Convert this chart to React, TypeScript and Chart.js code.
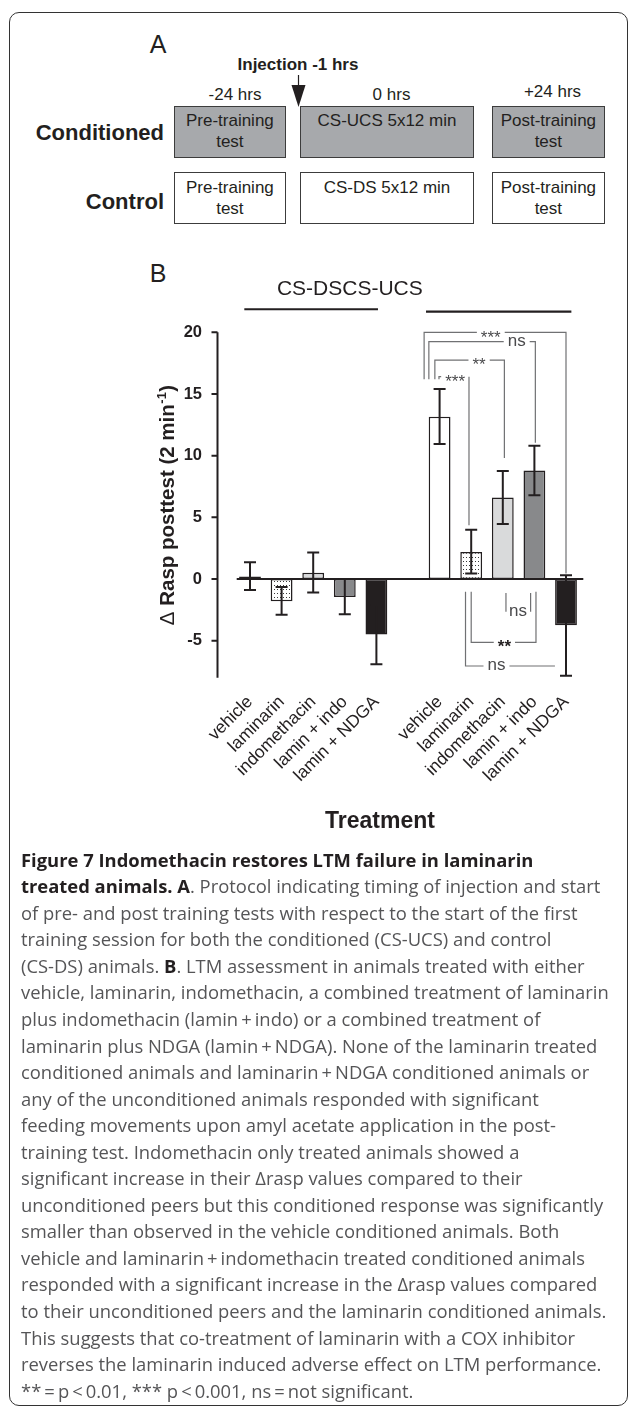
import React, { useEffect, useRef } from "react";
import { Chart, registerables } from "chart.js";

Chart.register(...registerables);

// ---------------- data ----------------
const categories = [
  "vehicle", "laminarin", "indomethacin", "lamin + indo", "lamin + NDGA",
  "",
  "vehicle", "laminarin", "indomethacin", "lamin + indo", "lamin + NDGA",
];
const means = [0.2, -1.8, 0.5, -1.45, -4.5, null, 13.15, 2.2, 6.6, 8.8, -3.75];
const errHigh = [1.35, -0.65, 2.15, 0.0, -2.1, null, 15.4, 4.0, 8.75, 10.8, 0.3];
const errLow = [-0.9, -2.9, -1.1, -2.85, -6.9, null, 10.95, 0.45, 4.45, 6.8, -7.85];
const fillKinds = ["#ffffff", "dots", "#d9dadb", "#88898b", "#231f20", "rgba(0,0,0,0)", "#ffffff", "dots", "#d9dadb", "#88898b", "#231f20"];
const yMin = -8;
const yMax = 20;
const yStep = 5;

const groupLabel = "CS-DSCS-UCS";
const groupLabelAt = { x: 3.16, y: 23.06 };
const groupLines = [
  { from: -0.18, to: 4.05, y: 21.87 },
  { from: 5.57, to: 10.17, y: 21.67 },
];

// significance brackets (category index units / value units)
const brackets = [
  { left: 5.51, right: 10.0, y: 20.0, leftEnd: 16.2, rightEnd: 0.45, label: "***", labelAt: 7.62, bold: false },
  { left: 5.66, right: 9.03, y: 19.25, leftEnd: 16.2, rightEnd: 11.05, label: "ns", labelAt: 8.44, bold: false },
  { left: 5.85, right: 8.05, y: 17.75, leftEnd: 16.2, rightEnd: 9.8, label: "**", labelAt: 7.25, bold: false },
  { left: 5.98, right: 6.93, y: 16.4, leftEnd: 16.2, rightEnd: 4.35, label: "***", labelAt: 6.49, bold: false },
  { left: 8.1, right: 8.88, y: -2.65, leftEnd: -1.13, rightEnd: -1.13, label: "ns", labelAt: 8.48, bold: false },
  { left: 7.0, right: 9.05, y: -5.13, leftEnd: -1.03, rightEnd: -1.03, label: "**", labelAt: 8.05, bold: true },
  { left: 6.82, right: 9.65, y: -7.05, leftEnd: -1.03, rightEnd: null, label: "ns", labelAt: 7.8, bold: false },
];

const yTitleMain = "Rasp posttest (2 min";
const xTitle = "Treatment";

// ---------------- panel A ----------------
const timeLabels = [
  { text: "-24 hrs", x: 235, b: 100 },
  { text: "0 hrs", x: 391.5, b: 100 },
  { text: "+24 hrs", x: 552.5, b: 97 },
];
const boxCols = [
  { left: 174, right: 285.7 },
  { left: 300, right: 474 },
  { left: 492, right: 604.7 },
];
const conditionedTexts = [["Pre-training", "test"], ["CS-UCS 5x12 min"], ["Post-training", "test"]];
const controlTexts = [["Pre-training", "test"], ["CS-DS 5x12 min"], ["Post-training", "test"]];

// ---------------- caption ----------------
const captionLines: [string, boolean][][] = [
  [["Figure 7 Indomethacin restores LTM failure in laminarin", true]],
  [["treated animals. A", true], [". Protocol indicating timing of injection and start", false]],
  [["of pre- and post training tests with respect to the start of the first", false]],
  [["training session for both the conditioned (CS-UCS) and control", false]],
  [["(CS-DS) animals. ", false], ["B", true], [". LTM assessment in animals treated with either", false]],
  [["vehicle, laminarin, indomethacin, a combined treatment of laminarin", false]],
  [["plus indomethacin (lamin\u2009+\u2009indo) or a combined treatment of", false]],
  [["laminarin plus NDGA (lamin\u2009+\u2009NDGA). None of the laminarin treated", false]],
  [["conditioned animals and laminarin\u2009+\u2009NDGA conditioned animals or", false]],
  [["any of the unconditioned animals responded with significant", false]],
  [["feeding movements upon amyl acetate application in the post-", false]],
  [["training test. Indomethacin only treated animals showed a", false]],
  [["significant increase in their \u0394rasp values compared to their", false]],
  [["unconditioned peers but this conditioned response was significantly", false]],
  [["smaller than observed in the vehicle conditioned animals. Both", false]],
  [["vehicle and laminarin\u2009+\u2009indomethacin treated conditioned animals", false]],
  [["responded with a significant increase in the \u0394rasp values compared", false]],
  [["to their unconditioned peers and the laminarin conditioned animals.", false]],
  [["This suggests that co-treatment of laminarin with a COX inhibitor", false]],
  [["reverses the laminarin induced adverse effect on LTM performance.", false]],
  [["**\u2009=\u2009p\u2009<\u20090.01, *** p\u2009<\u20090.001, ns\u2009=\u2009not significant.", false]],
];

const HELV = "'Liberation Sans', Arial, Helvetica, sans-serif";
const CAP = "'Open Sans', 'Noto Sans', sans-serif";
const INK = "#231f20";
const CANVAS_TOP = 240;
const CANVAS_H = 610;

function T(props: { x: number; b: number; size: number; bold?: boolean; align?: "center" | "left" | "right"; children: any }) {
  const { x, b, size, bold, align = "center", children } = props;
  const top = b - 0.8465 * size;
  const base: any = {
    position: "absolute",
    top,
    fontSize: size,
    lineHeight: size + "px",
    fontFamily: HELV,
    fontWeight: bold ? 700 : 400,
    color: INK,
    whiteSpace: "nowrap",
  };
  if (align === "center") Object.assign(base, { left: x - 300, width: 600, textAlign: "center" });
  else if (align === "right") Object.assign(base, { left: x - 600, width: 600, textAlign: "right" });
  else Object.assign(base, { left: x });
  return <div style={base}>{children}</div>;
}

export default function App() {
  const ref = useRef<HTMLCanvasElement>(null);

  useEffect(() => {
    const canvas = ref.current!;
    const pc = document.createElement("canvas");
    pc.width = 3;
    pc.height = 4;
    const g = pc.getContext("2d")!;
    g.fillStyle = "#ffffff";
    g.fillRect(0, 0, 3, 4);
    g.fillStyle = "#3a3a3a";
    g.fillRect(1, 1, 1, 1);
    const pattern = canvas.getContext("2d")!.createPattern(pc, "repeat");
    const fills = fillKinds.map((k) => (k === "dots" ? pattern : k));

    const plugin = {
      id: "figureExtras",
      beforeDatasetsDraw(chart: any) {
        const { ctx, chartArea, scales } = chart;
        const y0 = scales.y.getPixelForValue(0);
        ctx.save();
        ctx.strokeStyle = INK;
        ctx.lineWidth = 2;
        ctx.beginPath();
        ctx.moveTo(chartArea.left + 2.5, y0);
        ctx.lineTo(chartArea.right + 1.5, y0);
        ctx.stroke();
        ctx.restore();
      },
      afterDatasetsDraw(chart: any) {
        const { ctx, chartArea, scales } = chart;
        const x = scales.x;
        const y = scales.y;
        const meta = chart.getDatasetMeta(0);
        ctx.save();

        // error bars
        ctx.strokeStyle = INK;
        ctx.lineWidth = 2;
        means.forEach((m, i) => {
          if (m == null) return;
          const cx = meta.data[i].x;
          const yh = y.getPixelForValue(errHigh[i] as number);
          const yl = y.getPixelForValue(errLow[i] as number);
          ctx.beginPath();
          ctx.moveTo(cx, yh);
          ctx.lineTo(cx, yl);
          ctx.moveTo(cx - 6, yh);
          ctx.lineTo(cx + 6, yh);
          ctx.moveTo(cx - 6, yl);
          ctx.lineTo(cx + 6, yl);
          ctx.stroke();
        });

        // y axis line + tick marks (offset from plot)
        const ax = chartArea.left - 16.7;
        ctx.beginPath();
        ctx.moveTo(ax, y.getPixelForValue(yMax));
        ctx.lineTo(ax, y.getPixelForValue(yMin));
        y.ticks.forEach((t: any) => {
          const py = y.getPixelForValue(t.value);
          ctx.moveTo(ax - 6, py);
          ctx.lineTo(ax, py);
        });
        ctx.stroke();

        // brackets
        brackets.forEach((b) => {
          const xl = x.getPixelForValue(b.left);
          const xr = x.getPixelForValue(b.right);
          const yy = y.getPixelForValue(b.y);
          const isStar = b.label.indexOf("*") >= 0;
          const fs = isStar ? 17 : 17;
          ctx.font = (b.bold ? "bold " : "") + fs + "px " + HELV;
          const tw = ctx.measureText(b.label).width;
          const tx = x.getPixelForValue(b.labelAt);
          const gl = tx - tw / 2 - 4;
          const gr = tx + tw / 2 + 4;
          ctx.strokeStyle = "#707173";
          ctx.lineWidth = 1.2;
          ctx.beginPath();
          if (b.leftEnd != null) {
            ctx.moveTo(xl, y.getPixelForValue(b.leftEnd));
            ctx.lineTo(xl, yy);
          } else ctx.moveTo(xl, yy);
          ctx.lineTo(Math.max(xl, gl), yy);
          ctx.moveTo(Math.min(xr, gr), yy);
          ctx.lineTo(xr, yy);
          if (b.rightEnd != null) ctx.lineTo(xr, y.getPixelForValue(b.rightEnd));
          ctx.stroke();
          ctx.fillStyle = b.bold ? INK : "#4a4a4c";
          ctx.textAlign = "center";
          ctx.textBaseline = "alphabetic";
          ctx.fillText(b.label, tx, yy + (isStar ? 0.6 * fs : 0.26 * fs));
        });

        // group lines and label
        ctx.strokeStyle = INK;
        ctx.lineWidth = 2.2;
        groupLines.forEach((gl) => {
          const yy = y.getPixelForValue(gl.y);
          ctx.beginPath();
          ctx.moveTo(x.getPixelForValue(gl.from), yy);
          ctx.lineTo(x.getPixelForValue(gl.to), yy);
          ctx.stroke();
        });
        ctx.fillStyle = INK;
        ctx.font = "21px " + HELV;
        ctx.textAlign = "center";
        ctx.fillText(groupLabel, x.getPixelForValue(groupLabelAt.x), y.getPixelForValue(groupLabelAt.y));

        // y title (rotated)
        const fsT = 20.5;
        const pDelta = "\u0394 ";
        ctx.font = fsT + "px " + HELV;
        const w1 = ctx.measureText(pDelta).width;
        ctx.font = "bold " + fsT + "px " + HELV;
        const w2 = ctx.measureText(yTitleMain).width;
        ctx.font = "bold 13px " + HELV;
        const w3 = ctx.measureText("-1").width;
        ctx.font = "bold " + fsT + "px " + HELV;
        const w4 = ctx.measureText(")").width;
        const total = w1 + w2 + w3 + 1 + w4;
        ctx.save();
        ctx.translate(174, 505 - CANVAS_TOP);
        ctx.rotate(-Math.PI / 2);
        ctx.textAlign = "left";
        let cx = -total / 2;
        ctx.font = fsT + "px " + HELV;
        ctx.fillText(pDelta, cx, 0);
        cx += w1;
        ctx.font = "bold " + fsT + "px " + HELV;
        ctx.fillText(yTitleMain, cx, 0);
        cx += w2;
        ctx.font = "bold 13px " + HELV;
        ctx.fillText("-1", cx + 0.5, -8.5);
        cx += w3 + 1;
        ctx.font = "bold " + fsT + "px " + HELV;
        ctx.fillText(")", cx, 0);
        ctx.restore();

        // x title
        ctx.font = "bold 23px " + HELV;
        ctx.textAlign = "center";
        ctx.fillStyle = INK;
        ctx.fillText(xTitle, 380, 828.3 - CANVAS_TOP);

        ctx.restore();
      },
    };

    const chart = new Chart(canvas, {
      type: "bar",
      data: {
        labels: categories,
        datasets: [
          {
            data: means as any,
            backgroundColor: fills as any,
            borderColor: INK,
            borderWidth: 1.5,
            borderSkipped: false,
            barPercentage: 0.69,
            categoryPercentage: 1,
          },
        ],
      },
      options: {
        animation: false,
        responsive: false,
        devicePixelRatio: 1,
        layout: { padding: { left: 0, right: 47.2, top: 92.3, bottom: 0 } },
        plugins: { legend: { display: false }, tooltip: { enabled: false } },
        scales: {
          x: {
            type: "category",
            offset: true,
            grid: { display: false, drawTicks: false },
            border: { display: false },
            ticks: {
              autoSkip: false,
              minRotation: 45,
              maxRotation: 45,
              padding: 14,
              color: INK,
              font: { family: HELV, size: 17.5 },
            },
            afterFit: (s: any) => {
              s.height = 172.3;
            },
          },
          y: {
            min: yMin,
            max: yMax,
            grid: { display: false, drawTicks: false },
            border: { display: false },
            ticks: {
              stepSize: yStep,
              includeBounds: false,
              padding: 32.2,
              color: INK,
              font: { family: HELV, size: 16.5, weight: "bold" },
            },
            afterFit: (s: any) => {
              s.width = 234.2;
            },
          },
        },
      } as any,
      plugins: [plugin],
    });
    return () => chart.destroy();
  }, []);

  const capFs = 18.4;
  const capBaseOffset = 0.888 * capFs;

  return (
    <div style={{ position: "absolute", left: 0, top: 0, width: 629, height: 1410, overflow: "hidden", background: "#fff" }}>
      {/* frame */}
      <div
        style={{
          position: "absolute",
          left: 9,
          top: 12,
          width: 619,
          height: 1394,
          border: "1.5px solid #333",
          borderRadius: 10,
          boxSizing: "border-box",
        }}
      />
      {/* Panel A */}
      <T x={158} b={53.3} size={25}>A</T>
      <T x={298} b={70} size={17} bold>Injection -1 hrs</T>
      <svg style={{ position: "absolute", left: 0, top: 0 }} width={629} height={240}>
        <line x1={298.5} y1={75} x2={298.5} y2={86} stroke={INK} strokeWidth={1.2} />
        <polygon points="291.5,85 305.5,85 298.5,107" fill={INK} />
      </svg>
      {timeLabels.map((t, i) => (
        <T key={"t" + i} x={t.x} b={t.b} size={17}>{t.text}</T>
      ))}
      {boxCols.map((c, i) => (
        <div
          key={"cb" + i}
          style={{
            position: "absolute",
            left: c.left,
            top: 106,
            width: c.right - c.left,
            height: 51.7,
            background: "#a7a9ac",
            border: "1px solid #3c3c3c",
            boxSizing: "border-box",
          }}
        />
      ))}
      {boxCols.map((c, i) => (
        <div
          key={"kb" + i}
          style={{
            position: "absolute",
            left: c.left,
            top: 172.3,
            width: c.right - c.left,
            height: 51.7,
            background: "#ffffff",
            border: "1px solid #3c3c3c",
            boxSizing: "border-box",
          }}
        />
      ))}
      {conditionedTexts.map((lines, i) =>
        lines.map((s, j) => (
          <T key={"ct" + i + j} x={(boxCols[i].left + boxCols[i].right) / 2} b={126.5 + 21 * j} size={17}>{s}</T>
        ))
      )}
      {controlTexts.map((lines, i) =>
        lines.map((s, j) => (
          <T key={"kt" + i + j} x={(boxCols[i].left + boxCols[i].right) / 2} b={193.3 + 21 * j} size={17}>{s}</T>
        ))
      )}
      <T x={164} b={141} size={22} bold align="right">Conditioned</T>
      <T x={164} b={209.3} size={22} bold align="right">Control</T>
      {/* Panel B */}
      <T x={158} b={281.7} size={25}>B</T>
      <canvas
        ref={ref}
        width={629}
        height={CANVAS_H}
        style={{ position: "absolute", left: 0, top: CANVAS_TOP, width: 629, height: CANVAS_H, display: "block" }}
      />
      {/* caption */}
      {captionLines.map((segs, i) => (
        <div
          key={"cap" + i}
          style={{
            position: "absolute",
            left: 21,
            top: 867 + 26.55 * i - capBaseOffset,
            fontFamily: CAP,
            fontSize: capFs,
            lineHeight: capFs + "px",
            whiteSpace: "nowrap",
            color: "#555557",
          }}
        >
          {segs.map(([s, b], k) => (
            <span key={k} style={{ fontWeight: b ? 700 : 400, color: b ? INK : "#555557" }}>{s}</span>
          ))}
        </div>
      ))}
    </div>
  );
}
